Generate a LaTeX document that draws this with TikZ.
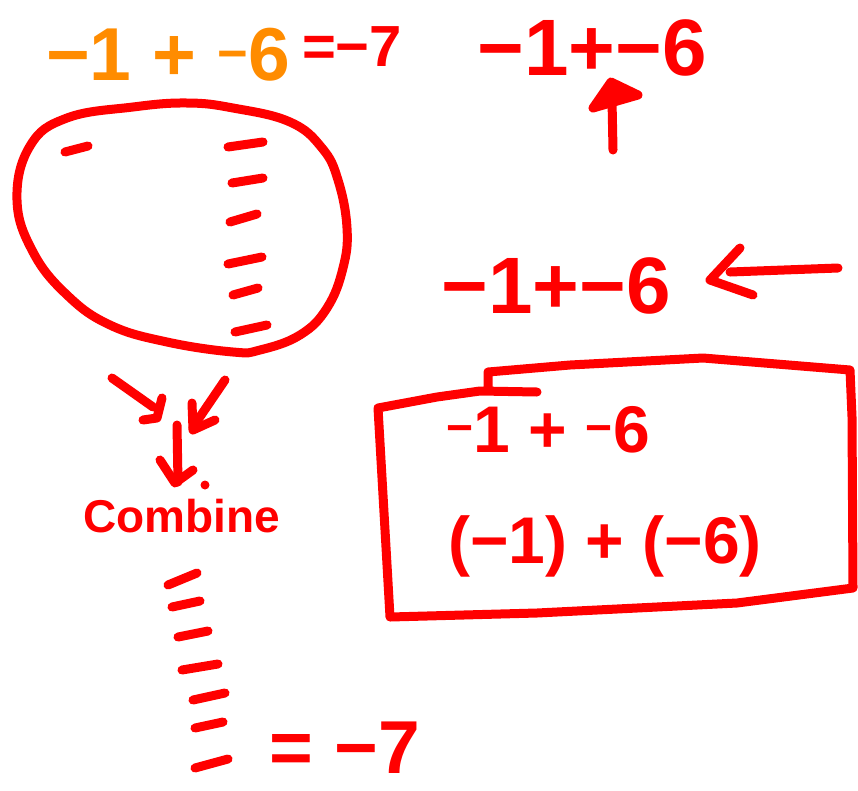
\documentclass[tikz,border=0pt]{standalone}
\usepackage{fontspec}
\setmainfont{Liberation Sans}
\usepackage{tikz}
\usetikzlibrary{positioning}
\definecolor{penred}{RGB}{255,0,0}
\definecolor{penorange}{RGB}{255,140,0}
\newcommand{\pensize}[1]{\fontsize{#1}{#1}\selectfont\bfseries}

\begin{document}
\begin{tikzpicture}[
    x=1pt, y=-1pt,
    pen/.style={draw=penred, line width=9pt, line cap=round, line join=round},
    hand/.style={text=penred, inner sep=0pt, font=\pensize{#1}},
    hand/.default=80
  ]
  \useasboundingbox (0,0) rectangle (858,790);
  \fill[white] (0,0) rectangle (858,790);

  % Top left: the sum and its answer
  \node[hand=75, text=penorange] (sumleft) at (168,55) {−1 + \textsuperscript{−}6};
  \node[hand=58] (sumright) at (352,47) {=−7};

  % Oval holding the counters
  \draw[pen] plot[smooth cycle, tension=0.7] coordinates {
    (30,146) (67,118) (133,107) (187,103) (233,108) (290,122) (322,148)
    (338,180) (347,228) (343,268) (327,308) (300,335) (260,350) (233,352)
    (167,342) (110,325) (67,295) (33,252) (17,200)};
  \foreach \xa/\ya/\xb/\yb in {65/152/88/146, 228/147/263/142, 232/183/263/178,
      230/222/257/214, 228/264/262/257, 233/295/258/288, 235/332/267/325}
    \draw[pen] (\xa,\ya) -- (\xb,\yb);

  % Arrows into combine
  \draw[pen] (112,378) -- (153,407);
  \draw[pen] (162,398) -- (157,418) -- (143,420);
  \draw[pen] (225,380) -- (193,427);
  \draw[pen] (192,403) -- (193,430) -- (215,420);
  \draw[pen] (177,425) -- (178,482);
  \draw[pen] (160,460) -- (175,483) -- (193,470);
  \fill[penred] (205,485) circle (4.5);
  \node[hand=46] (combine) at (182,516) {Combine};

  % Combined counters
  \foreach \xa/\ya/\xb/\yb in {168/585/197/573, 172/607/200/601, 178/637/208/631,
      182/670/218/664, 193/700/225/693, 195/728/223/722, 195/768/228/759}
    \draw[pen] (\xa,\ya) -- (\xb,\yb);
  \node[hand=75] (result) at (345,748) {= −7};

  % Top right: sign pointed at
  \node[hand=80] (topexpr) at (592,48) {−1+−6};
  \draw[pen] (613,150) -- (612,100);
  \filldraw[pen, fill=penred] (593,108) -- (611,82) -- (638,95) -- cycle;

  % Middle right: sign pointed at
  \node[hand=80] (midexpr) at (556,286) {−1+−6};
  \draw[pen] (838,268) -- (730,272);
  \draw[pen] (740,248) -- (710,280) -- (753,295);

  % Box with the two ways to write it
  \draw[pen] (537,392) -- (480,391) -- (437,397) -- (378,408) -- (390,617)
    -- (537,613) -- (737,603) -- (853,588) -- (852,417) -- (850,370)
    -- (703,358) -- (570,365) -- (488,372) -- (488,390);
  \node[hand=66] (boxsup) at (548,430) {\textsuperscript{−}1 + \textsuperscript{−}6};
  \node[hand=66] (boxparen) at (605,546) {(−1) + (−6)};
\end{tikzpicture}
\end{document}
